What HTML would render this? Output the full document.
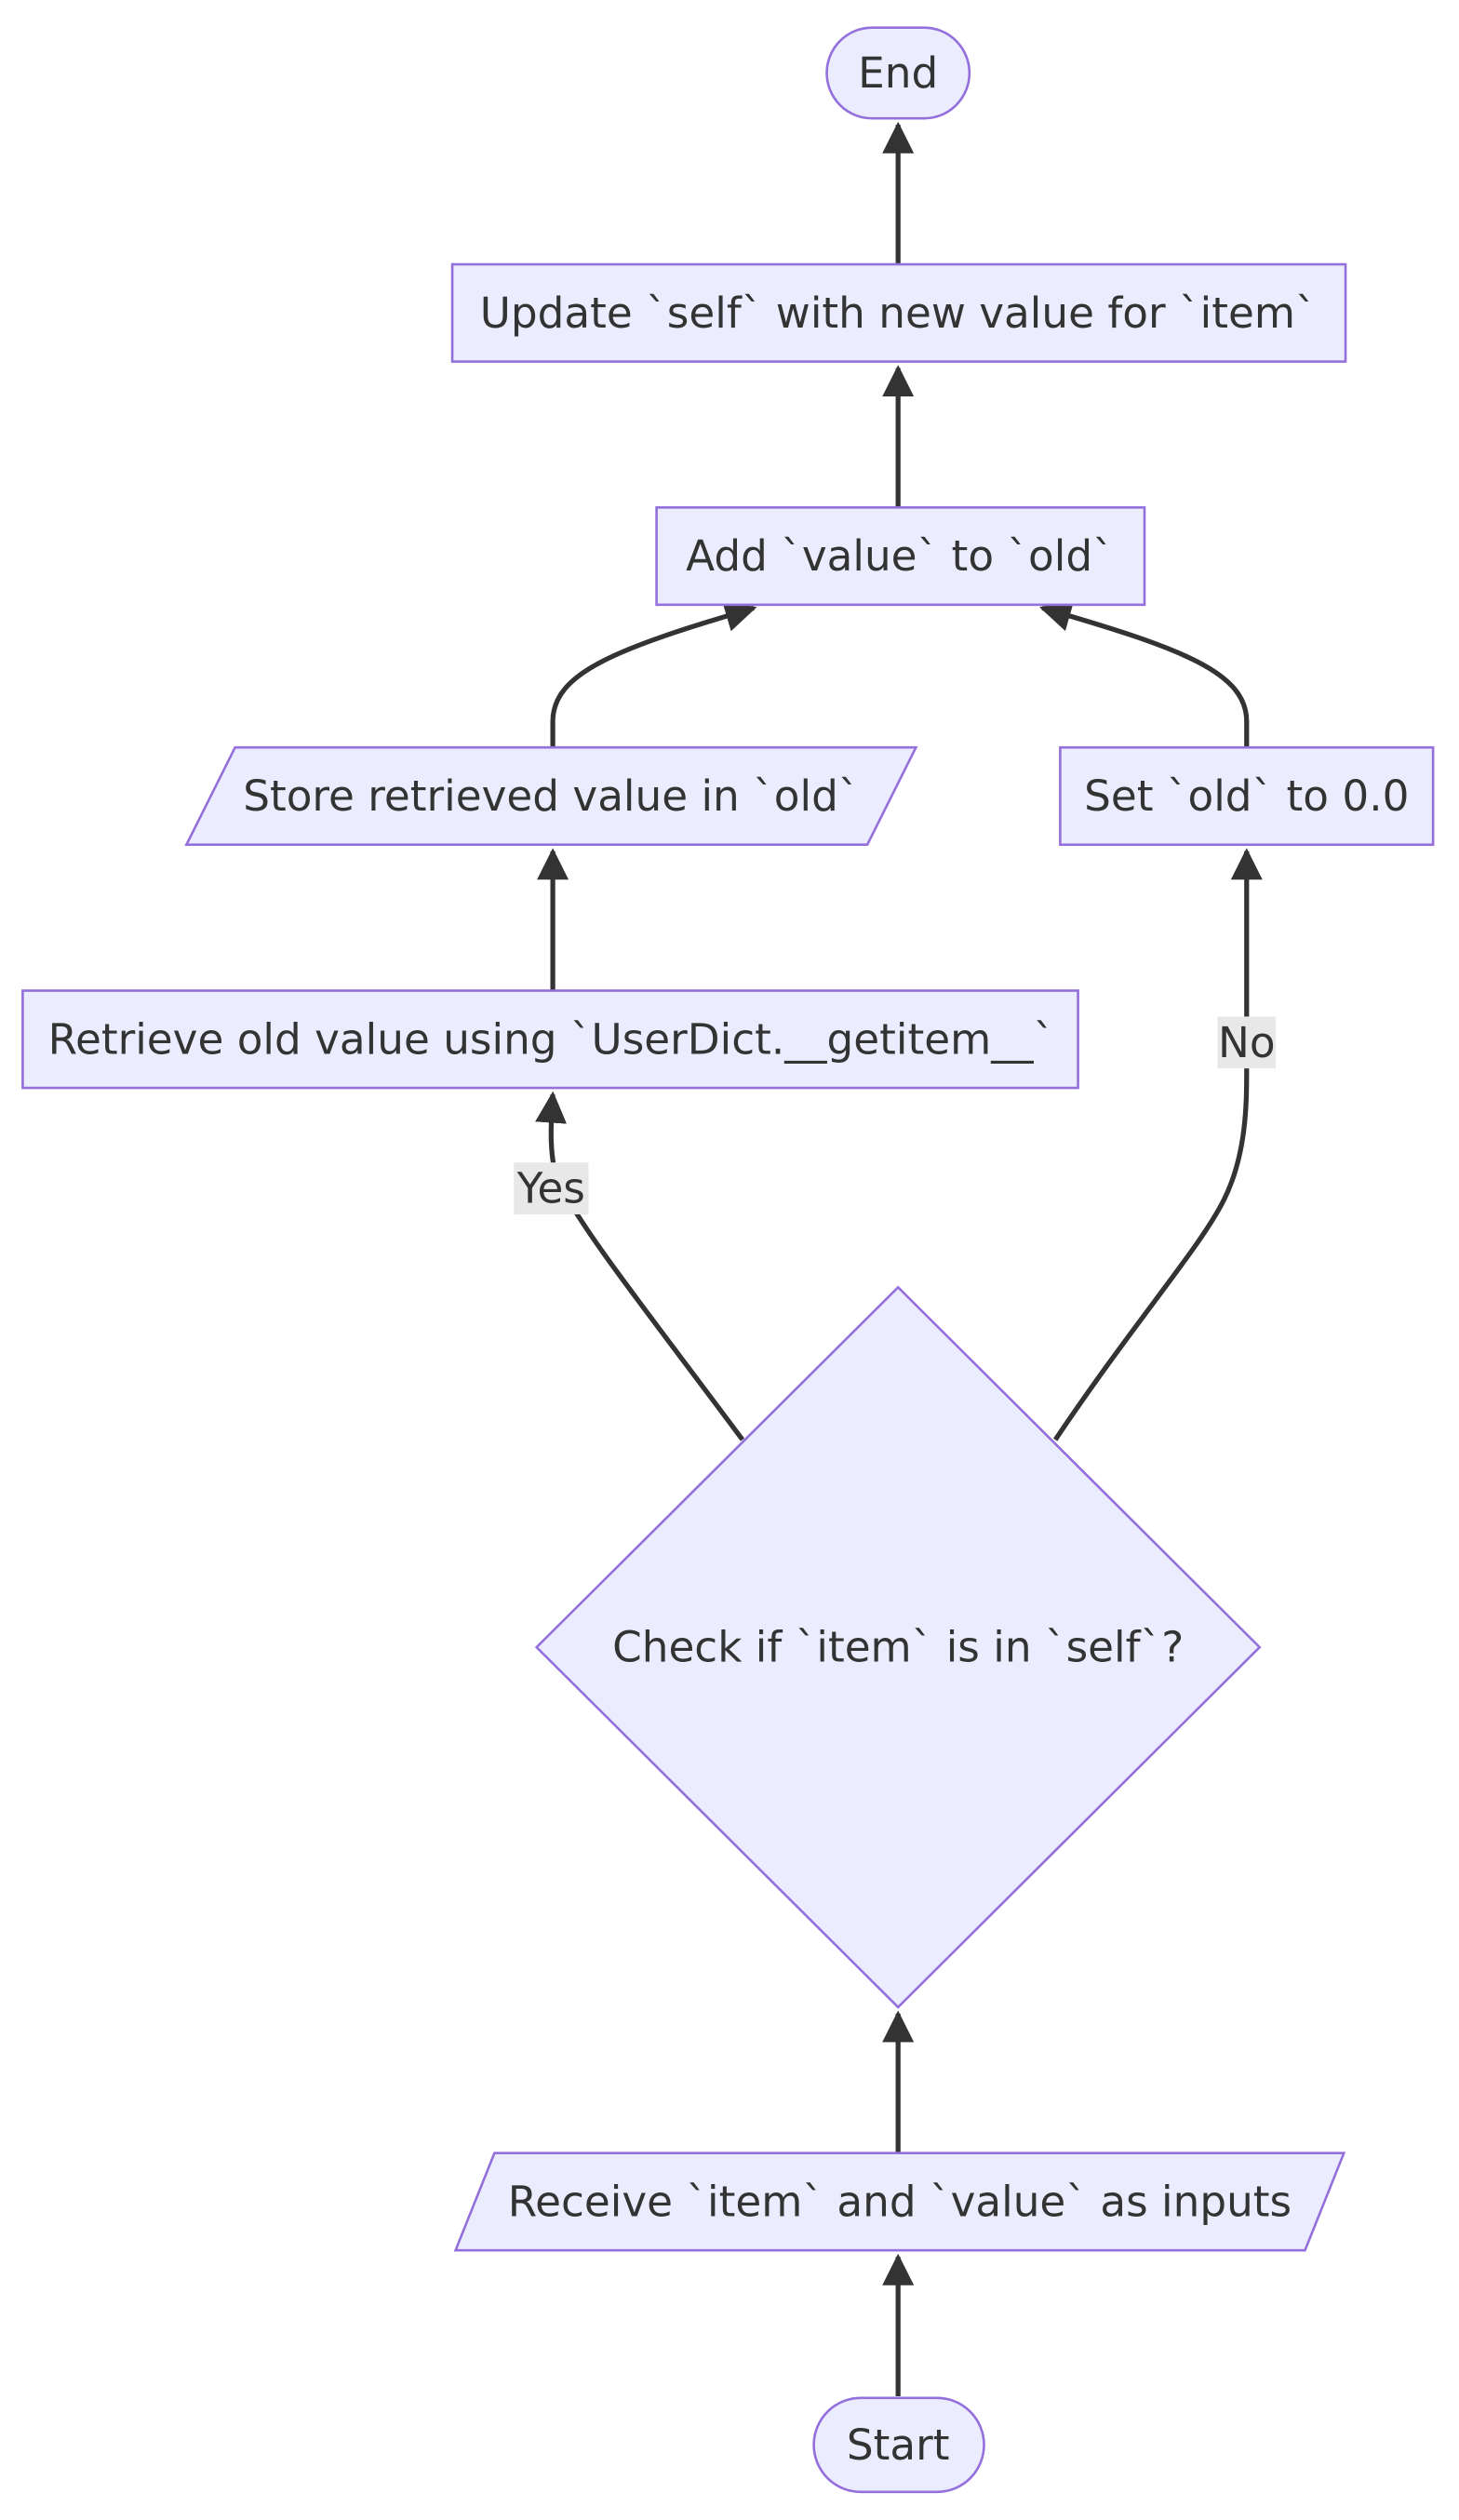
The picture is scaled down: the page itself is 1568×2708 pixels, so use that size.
<!DOCTYPE html>
<html><head><meta charset="utf-8"><style>
html,body{margin:0;padding:0;background:#fff}
svg{display:block}
text{font-family:"DejaVu Sans","Liberation Sans",sans-serif;font-size:26px;fill:#333;text-anchor:middle;dominant-baseline:central}
.n{fill:#ECECFF;stroke:#9370DB;stroke-width:1.5}
.e{fill:none;stroke:#333;stroke-width:3}
</style></head><body>
<svg width="1568" height="2708" viewBox="0 0 900 1554.3" xmlns="http://www.w3.org/2000/svg">
<defs><marker id="a" viewBox="0 0 10 10" refX="9" refY="5" markerWidth="6.5" markerHeight="6.5" orient="auto-start-reverse" markerUnits="strokeWidth"><path d="M0,0L10,5L0,10z" fill="#333"/></marker></defs>
<path class="e" d="M554,1478V1392" marker-end="url(#a)"/>
<path class="e" d="M554,1328V1242" marker-end="url(#a)"/>
<path class="e" d="M458,888C400,810 360,760 345,730 338,715 340,690 341,675" marker-end="url(#a)"/>
<path class="e" d="M651,888C700,815 740,770 755,740 769,712 769,680 769,660V525" marker-end="url(#a)"/>
<path class="e" d="M341,611V525" marker-end="url(#a)"/>
<path class="e" d="M341,461V445C341,415 380,400 465,375" marker-end="url(#a)"/>
<path class="e" d="M769,461V445C769,415 730,400 643,375" marker-end="url(#a)"/>
<path class="e" d="M554,313V227" marker-end="url(#a)"/>
<path class="e" d="M554,163V77" marker-end="url(#a)"/>
<rect class="n" x="510" y="17" width="88" height="56" rx="28"/><text x="554" y="45">End</text>
<rect class="n" x="279" y="163" width="551" height="60"/><text x="554" y="193">Update `self` with new value for `item`</text>
<rect class="n" x="405" y="313" width="301" height="60"/><text x="555" y="343">Add `value` to `old`</text>
<polygon class="n" points="145,461 565,461 535,521 115,521"/><text x="340" y="491">Store retrieved value in `old`</text>
<rect class="n" x="654" y="461" width="230" height="60"/><text x="769" y="491">Set `old` to 0.0</text>
<rect class="n" x="14" y="611" width="651" height="60"/><text x="340" y="641">Retrieve old value using `UserDict.__getitem__`</text>
<polygon class="n" points="554,794 777,1016 554,1238 331,1016"/><text x="554" y="1016">Check if `item` is in `self`?</text>
<polygon class="n" points="305,1328 829,1328 805,1388 281,1388"/><text x="555" y="1358">Receive `item` and `value` as inputs</text>
<rect class="n" x="502" y="1479" width="105" height="58" rx="29"/><text x="554" y="1508">Start</text>
<rect x="317" y="717" width="46" height="32" fill="#e8e8e8"/><text x="340" y="733">Yes</text>
<rect x="751" y="627" width="36" height="32" fill="#e8e8e8"/><text x="769" y="643">No</text>
</svg>
</body></html>
